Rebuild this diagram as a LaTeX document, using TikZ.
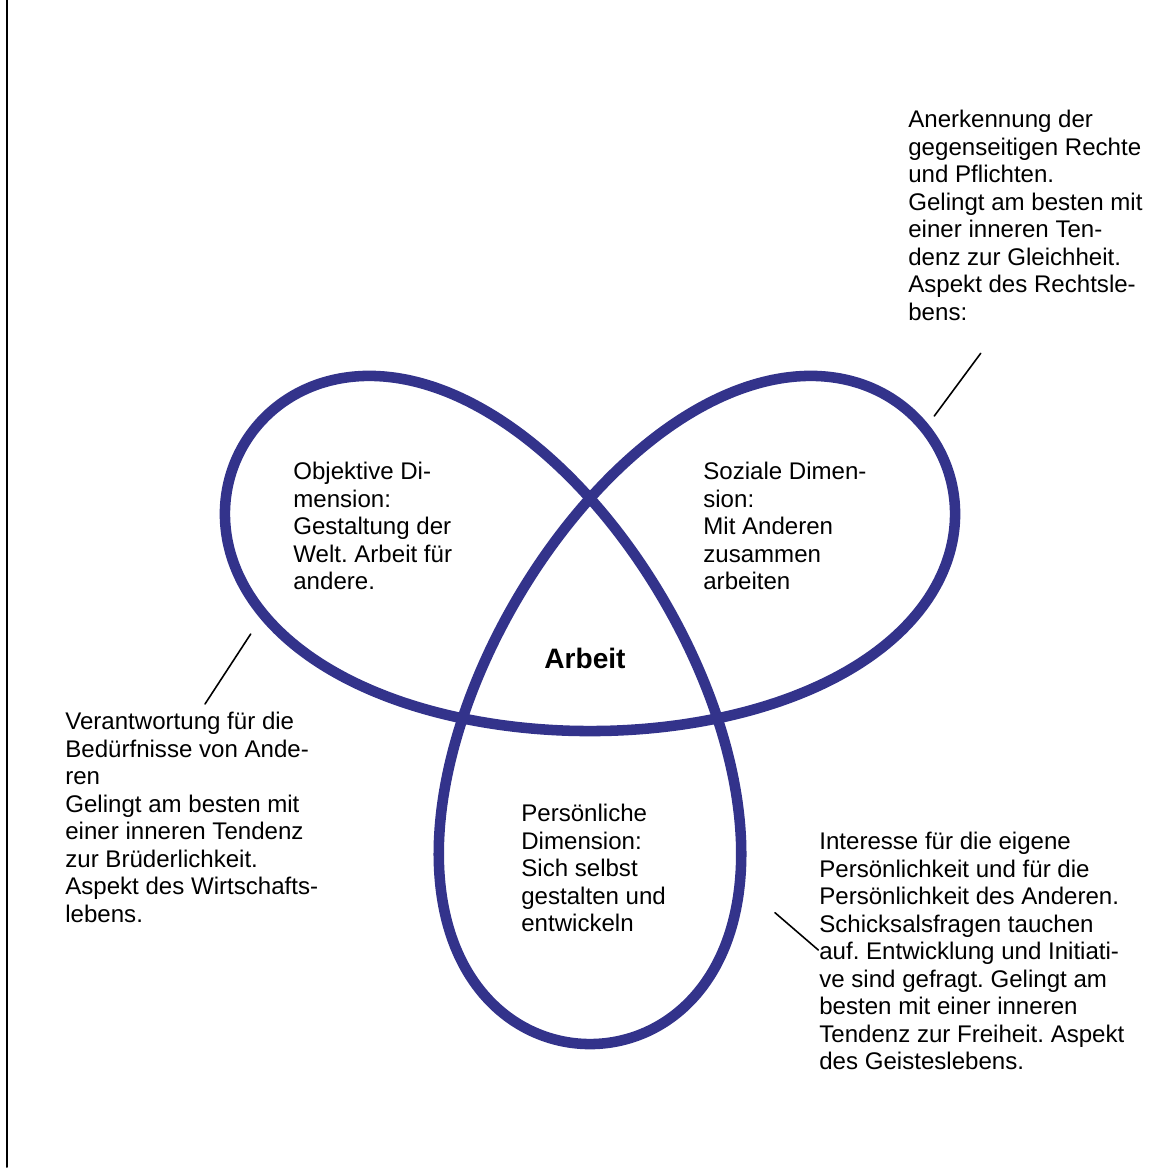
\documentclass[tikz,border=0pt]{standalone}
\usepackage{fontspec}
\usepackage{tkz-euclide}
\setmainfont{Liberation Sans}
\frenchspacing
\definecolor{knotblue}{RGB}{51,51,139}
\tikzset{>=stealth,
    txt/.style={anchor=north west, inner sep=0pt, align=left, font=\fontsize{13.7}{15.65}\selectfont},
    trefoil/.style={draw=knotblue, line width=6pt, line join=round}}

\begin{document}
\begin{tikzpicture}[x=0.02cm, y=-0.02cm]
    \useasboundingbox (0,0) rectangle (1170,1167);
    \tkzDefPoints{7/0/F, 7/1167/G, 980.7/353.3/P, 934.3/416/Q, 250.7/634/U, 205/704/V, 775/912.7/S, 818.3/950/T}
    \tkzDrawSegment[line width=1.1pt, black](F,G)
    \draw[trefoil] plot[domain=0:360, samples=241, smooth, variable=\t]
        ({590+157*(sin(\t)+1.6*sin(2*\t)+0.05*sin(4*\t))}, {645-156.5*(cos(\t)-1.6*cos(2*\t)+0.05*cos(4*\t))}) -- cycle;
    \tkzDrawSegment[line width=0.9pt, black](P,Q)
    \tkzDrawSegment[line width=0.9pt, black](U,V)
    \tkzDrawSegment[line width=0.9pt, black](S,T)
    \node[txt] (recht) at (908,110) {Anerkennung der\\gegenseitigen Rechte\\und Pflichten.\\Gelingt am besten mit\\einer inneren Ten-\\denz zur Gleichheit.\\Aspekt des Rechtsle-\\bens:};
    \node[txt] (wirtschaft) at (65,712) {Verantwortung für die\\Bedürfnisse von Ande-\\ren\\Gelingt am besten mit\\einer inneren Tendenz\\zur Brüderlichkeit.\\Aspekt des Wirtschafts-\\lebens.};
    \node[txt] (geist) at (819,832) {Interesse für die eigene\\Persönlichkeit und für die\\Persönlichkeit des Anderen.\\Schicksalsfragen tauchen\\auf. Entwicklung und Initiati-\\ve sind gefragt. Gelingt am\\besten mit einer inneren\\Tendenz zur Freiheit. Aspekt\\des Geisteslebens.};
    \node[txt] (objektiv) at (293,462) {Objektive Di-\\mension:\\Gestaltung der\\Welt. Arbeit für\\andere.};
    \node[txt] (sozial) at (703,462) {Soziale Dimen-\\sion:\\Mit Anderen\\zusammen\\arbeiten};
    \node[txt] (persoenlich) at (521,804) {Persönliche\\Dimension:\\Sich selbst\\gestalten und\\entwickeln};
    \node[font=\fontsize{16}{19}\selectfont\bfseries] (arbeit) at (585,658) {Arbeit};
\end{tikzpicture}
\end{document}
